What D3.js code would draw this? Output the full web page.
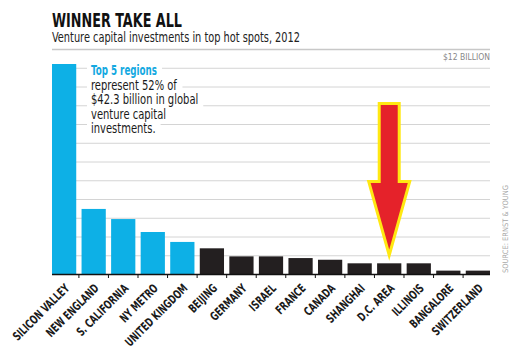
<!DOCTYPE html>
<html>
<head>
<meta charset="utf-8">
<script src="https://cdnjs.cloudflare.com/ajax/libs/d3/7.8.5/d3.min.js"></script>
<style>
  body { margin: 0; background: #fff; }
  svg { display: block; }
  .cond { font-family: "Liberation Sans Narrow", "DejaVu Sans Condensed", "Arial Narrow", sans-serif; font-stretch: condensed; }
</style>
</head>
<body>
<div id="display"><svg width="519" height="352"></svg></div>
<script>
// data, billions of dollars
var regions = ["SILICON VALLEY", "NEW ENGLAND", "S. CALIFORNIA", "NY METRO", "UNITED KINGDOM",
  "BEIJING", "GERMANY", "ISRAEL", "FRANCE", "CANADA", "SHANGHAI", "D.C. AREA", "ILLINOIS",
  "BANGALORE", "SWITZERLAND"];
var investments = [11.2, 3.47, 2.93, 2.24, 1.71, 1.37, 0.94, 0.94, 0.85, 0.76, 0.57, 0.57, 0.57, 0.18, 0.18];
var topCount = 5;
var gridTicks = [1, 2, 3, 4, 5, 6, 7, 8, 9, 10, 11, 12];
var noteLines = ["Top 5 regions", "represent 52% of", "$42.3 billion in global", "venture capital", "investments."];
var arrowTarget = "D.C. AREA";
var arrowValues = { top: 9.1, headBase: 4.93, tip: 1.0 };

var svg = d3.select("#display svg");
var plotL = 52, plotR = 490, plotB = 274, plotT = 49;

var x = d3.scaleBand().domain(regions).range([plotL, plotR]).paddingInner(0.18).paddingOuter(0);
var y = d3.scaleLinear().domain([0, 12]).range([plotB, plotT]);

// squeeze a text horizontally, the font on hand is wider than the original
function squeeze(sel, k) {
  sel.each(function() {
    var w = this.getComputedTextLength();
    d3.select(this).attr("textLength", w * k).attr("lengthAdjust", "spacingAndGlyphs");
  });
}

// titles
svg.append("text").attr("class", "cond").text("WINNER TAKE ALL")
  .attr("x", 52).attr("y", 27).attr("font-size", "19px").attr("font-weight", "bold")
  .attr("fill", "#111").attr("textLength", 130).attr("lengthAdjust", "spacingAndGlyphs");
svg.append("text").attr("class", "cond").text("Venture capital investments in top hot spots, 2012")
  .attr("x", 52).attr("y", 42).attr("font-size", "13.5px")
  .attr("fill", "#222").attr("textLength", 248).attr("lengthAdjust", "spacingAndGlyphs");

// grid
svg.append("g").selectAll("line").data(gridTicks).join("line")
  .attr("x1", plotL).attr("x2", plotR)
  .attr("y1", function(d) { return y(d) + 0.5; }).attr("y2", function(d) { return y(d) + 0.5; })
  .attr("stroke", function(d) { return d == 12 ? "#c8c8c8" : "#d4d4d4"; })
  .attr("stroke-width", function(d) { return d == 12 ? 1.5 : 1; });

svg.append("text").attr("class", "cond").text("$12 BILLION")
  .attr("x", plotR).attr("y", 60).attr("text-anchor", "end")
  .attr("font-size", "9.5px").attr("fill", "#888")
  .attr("textLength", 47).attr("lengthAdjust", "spacingAndGlyphs");

// note with white knockout behind each line
var note = svg.append("g");
noteLines.forEach(function(t, i) {
  var tx = note.append("text").attr("class", "cond").text(t)
    .attr("x", 91).attr("y", 75 + i * 14.5)
    .attr("font-size", "13.5px")
    .attr("font-weight", i == 0 ? "bold" : "normal")
    .attr("fill", i == 0 ? "#14a9e1" : "#1a1a1a");
  squeeze(tx, i == 0 ? 0.72 : 0.82);
  var bb = tx.node().getBBox();
  note.insert("rect", "text").attr("x", bb.x - 4).attr("y", bb.y + 1)
    .attr("width", bb.width + 9).attr("height", bb.height - 1).attr("fill", "#fff");
});

// bars
svg.append("g").selectAll("rect").data(investments).join("rect")
  .attr("x", function(d, i) { return x(regions[i]); })
  .attr("y", function(d) { return y(d); })
  .attr("width", x.bandwidth())
  .attr("height", function(d) { return plotB - y(d); })
  .attr("fill", function(d, i) { return i < topCount ? "#0db0e6" : "#231f20"; });

// baseline and ticks
svg.append("line").attr("x1", plotL).attr("x2", plotR).attr("y1", plotB + 0.5).attr("y2", plotB + 0.5)
  .attr("stroke", "#111").attr("stroke-width", 1.3);
var gap = x.step() - x.bandwidth();
svg.append("g").selectAll("line").data(regions.slice(1)).join("line")
  .attr("x1", function(d) { return x(d) - gap / 2; }).attr("x2", function(d) { return x(d) - gap / 2; })
  .attr("y1", plotB).attr("y2", plotB + 4).attr("stroke", "#111");

// category labels, sized so the longest one runs about 74px
var labels = svg.append("g").selectAll("text").data(regions).join("text")
  .attr("class", "cond").text(function(d) { return d; })
  .attr("text-anchor", "end").attr("font-size", "12px").attr("font-weight", "bold").attr("fill", "#1a1a1a")
  .attr("transform", function(d) {
    return "translate(" + (x(d) + x.bandwidth() / 2 + 6) + "," + (plotB + 15) + ") rotate(-45)";
  });
var k = 74 / labels.node().getComputedTextLength();
squeeze(labels, k);

// arrow
var ax = x(arrowTarget) + x.bandwidth() / 2;
var shaft = 10, head = 20.5;
var pts = [
  [ax - shaft, y(arrowValues.top)], [ax + shaft, y(arrowValues.top)],
  [ax + shaft, y(arrowValues.headBase)], [ax + head, y(arrowValues.headBase)],
  [ax, y(arrowValues.tip)],
  [ax - head, y(arrowValues.headBase)], [ax - shaft, y(arrowValues.headBase)]
];
svg.append("polygon").attr("points", pts.map(function(p) { return p.join(","); }).join(" "))
  .attr("fill", "#e5222a").attr("stroke", "#ffe812").attr("stroke-width", 3)
  .attr("stroke-linejoin", "miter");

// source
svg.append("text").text("SOURCE: ERNST & YOUNG")
  .attr("font-family", "'DejaVu Sans', sans-serif").attr("font-size", "7.5px").attr("fill", "#a8a8a8")
  .attr("textLength", 88).attr("lengthAdjust", "spacingAndGlyphs")
  .attr("transform", "translate(508,273) rotate(-90)");
</script>
</body>
</html>
